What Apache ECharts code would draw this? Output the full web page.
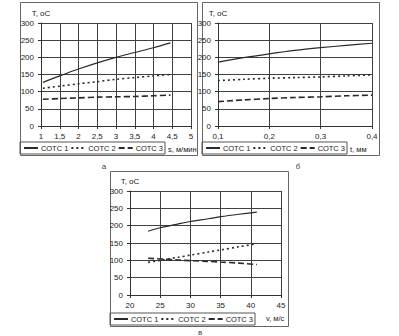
<!DOCTYPE html>
<html><head><meta charset="utf-8">
<script src="https://cdn.jsdelivr.net/npm/echarts@6/dist/echarts.min.js"></script>
<style>html,body{margin:0;padding:0;background:#fff}#c{width:399px;height:336px}</style>
</head><body><div id="c"></div>
<script>
// Panel а: T vs s (м/мин)
const sA = [1.05, 1.5, 2, 2.5, 3, 3.5, 4, 4.45];
const a1 = [127, 146, 166, 184, 200, 214, 228, 242];
const a2 = [110, 116, 123, 129, 136, 141, 146, 150];
const a3 = [78, 80, 82, 84, 85, 86, 88, 90];
// Panel б: T vs t (мм)
const tB = [0.1, 0.15, 0.2, 0.25, 0.3, 0.35, 0.4];
const b1 = [186, 199, 210, 220, 228, 235, 241];
const b2 = [132, 136, 139, 141, 143, 146, 149];
const b3 = [71, 76, 80, 83, 85, 88, 90];
// Panel в: T vs v (м/с)
const vC = [23, 25, 28, 30, 33, 35, 38, 41];
const c1 = [184, 194, 205, 212, 220, 226, 233, 239];
const c2 = [94, 100, 109, 115, 124, 130, 139, 148];
const c3 = [106, 104, 101, 99, 97, 95, 92, 88];

const seriesNames = ['СОТС 1', 'СОТС 2', 'СОТС 3'];
const xNames = ['s, м/мин', 't, мм', 'v, м/с'];
const yName = 'T, оС';
const panelLabels = ['а', 'б', 'в'];

const FONT = 'Liberation Sans, Arial, sans-serif';
const TXT = '#222';
const GRID = '#404040';
const LS = [
  {type: 'solid', width: 1.2, color: '#2a2a2a'},
  {type: [2, 3], width: 1.6, color: '#2a2a2a'},
  {type: [6, 3], width: 1.6, color: '#2a2a2a'}
];
const comma = v => String(Math.round(v * 10) / 10).replace('.', ',');

const grids = [
  {left: 41, top: 23, width: 150, height: 103},
  {left: 218, top: 23, width: 154, height: 103},
  {left: 130, top: 191, width: 151, height: 104}
];
const xCfg = [
  {min: 1, max: 5, interval: 0.5, gap: -23},
  {min: 0.1, max: 0.4, interval: 0.1, gap: -22},
  {min: 20, max: 45, interval: 5, gap: -15}
];
const xAxes = xCfg.map((c, i) => ({
  type: 'value', gridIndex: i, min: c.min, max: c.max, interval: c.interval,
  name: xNames[i], nameLocation: 'end', nameGap: c.gap,
  nameTextStyle: {fontSize: 7.5, fontFamily: FONT, color: TXT, align: 'left', verticalAlign: 'top', padding: [19, 0, 0, 0]},
  axisLine: {show: true, onZero: false, lineStyle: {color: '#333', width: 1}},
  axisTick: {show: true, length: 3, lineStyle: {color: '#333'}},
  axisLabel: {fontSize: 8, fontFamily: FONT, color: TXT, margin: 6, formatter: comma},
  splitLine: {show: true, lineStyle: {color: GRID, width: 1}}
}));
const yAxes = [0, 1, 2].map(i => ({
  type: 'value', gridIndex: i, min: 0, max: 300, interval: 50,
  name: yName, nameLocation: 'end', nameGap: 6,
  nameTextStyle: {fontSize: 8, fontFamily: FONT, color: TXT},
  axisLine: {show: true, lineStyle: {color: '#333', width: 1}},
  axisTick: {show: true, length: 3, lineStyle: {color: '#333'}},
  axisLabel: {fontSize: 8, fontFamily: FONT, color: TXT, margin: 7},
  splitLine: {show: true, lineStyle: {color: GRID, width: 1}}
}));

const panels = [[sA, [a1, a2, a3]], [tB, [b1, b2, b3]], [vC, [c1, c2, c3]]];
const series = [];
panels.forEach(([xs, ys], gi) => {
  ys.forEach((vals, si) => {
    series.push({
      type: 'line', name: seriesNames[si], xAxisIndex: gi, yAxisIndex: gi,
      data: xs.map((x, k) => [x, vals[k]]), smooth: 0.3,
      symbol: 'none', lineStyle: LS[si], itemStyle: {color: '#2a2a2a'},
      animation: false
    });
  });
});

const legendPos = [{left: 20, top: 142}, {left: 202, top: 142}, {left: 110, top: 313}];
const legends = legendPos.map(p => ({
  left: p.left, top: p.top, orient: 'horizontal', data: seriesNames,
  selectedMode: false, itemWidth: 14, itemHeight: 8, itemGap: 2,
  itemStyle: {opacity: 0},
  padding: [2, 2, 2, 3], borderColor: '#555', borderWidth: 1,
  textStyle: {fontSize: 7.5, fontFamily: FONT, color: TXT, padding: [0, 0, 0, -2]}
}));

const boxes = [[20, 2, 177, 153], [202, 2, 177, 153], [110, 171, 178, 155]];
const graphic = boxes.map(b => ({
  type: 'rect', shape: {x: b[0] + 0.5, y: b[1] + 0.5, width: b[2], height: b[3]},
  style: {fill: 'none', stroke: '#666', lineWidth: 1}, silent: true
}));
const labelPos = [[104, 166], [298, 166], [200, 332]];
labelPos.forEach((p, i) => graphic.push({
  type: 'text', x: p[0], y: p[1],
  style: {text: panelLabels[i], fontSize: 8, fontFamily: FONT, fill: '#444', textAlign: 'center', textVerticalAlign: 'middle'}
}));

const chart = echarts.init(document.getElementById('c'), null, {renderer: 'svg'});
chart.setOption({
  animation: false,
  backgroundColor: '#fff',
  grid: grids, xAxis: xAxes, yAxis: yAxes, series: series,
  legend: legends, graphic: graphic
});
</script></body></html>
